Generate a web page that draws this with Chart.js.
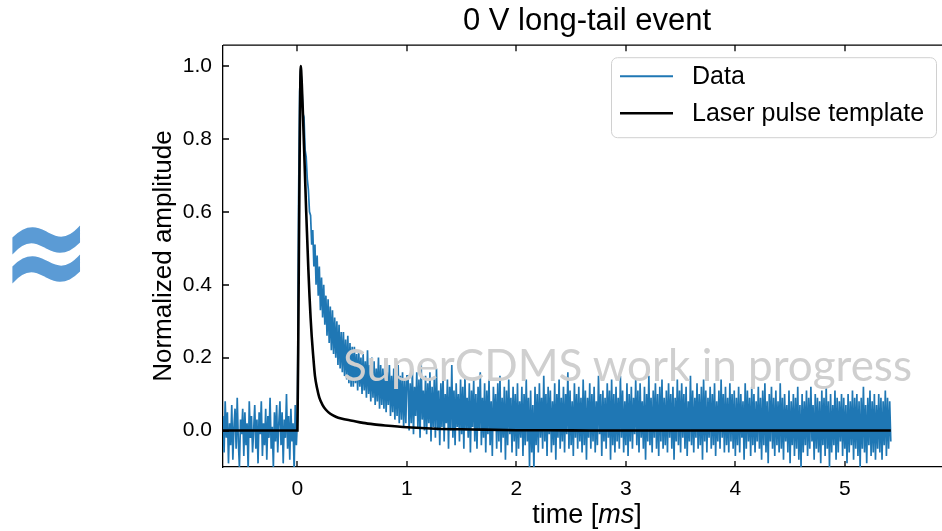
<!DOCTYPE html>
<html>
<head>
<meta charset="utf-8">
<title>0 V long-tail event</title>
<script src="https://cdn.jsdelivr.net/npm/chart.js@4.4.1/dist/chart.umd.min.js"></script>
<style>
  html, body { margin: 0; padding: 0; background: #fff; overflow: hidden; }
  #wrap { position: absolute; left: 0; top: 0; width: 960px; height: 531px; }
  #approx { position: absolute; left: 1px; top: 179px; font: bold 108px "DejaVu Sans"; color: #5b9bd5; line-height: 1; transform: scaleY(1.32); transform-origin: 0 0; }
  #mark { position: absolute; left: 343px; top: 342px; font: 44px Lato; color: #cfcfcf; line-height: 1; white-space: nowrap; pointer-events: none; }
  #xlabel { position: absolute; left: 487px; width: 200px; top: 501px; text-align: center; font: 27px "Liberation Sans"; line-height: 27px; color: #000; }
</style>
</head>
<body>
<div id="wrap">
  <canvas id="chart" width="960" height="531"></canvas>
  <div id="approx">≈</div>
  <div id="mark">SuperCDMS work in progress</div>
  <div id="xlabel">time [<i>ms</i>]</div>
</div>
<script>
// measured trace, one sample every 0.01 ms starting at -0.68 ms
const dataTimeStart = -0.68;
const dataTimeStep = 0.01;
const dataAmplitude = [
  // before the pulse
  0.04, -0.06, 0.08, -0.02, 0.05, -0.09, 0.02, -0.04, 0.07, -0.08,
  0.01, 0.06, -0.05, 0.09, -0.03, -0.10, 0.03, -0.01, 0.06, -0.07,
  0.05, -0.04, 0.02, -0.11, 0.08, -0.02, 0.04, -0.06, 0.00, 0.07,
  -0.05, 0.03, -0.09, 0.05, -0.01, 0.08, -0.07, 0.02, -0.04, 0.06,
  -0.08, 0.04, -0.02, 0.09, -0.05, 0.01, -0.10, 0.05, -0.03, 0.07,
  -0.06, 0.02, 0.08, -0.04, 0.05, -0.09, 0.03, -0.02, 0.10, -0.05,
  0.04, -0.08, 0.06, -0.03, 0.02, -0.11, 0.07, -0.04,
  // pulse, 0 to 1 ms
  0.03, 0.62, 0.93, 0.99, 0.95, 0.87, 0.86, 0.77, 0.75, 0.69,
  0.66, 0.60, 0.59, 0.51, 0.55, 0.45, 0.51, 0.40, 0.48, 0.37,
  0.45, 0.33, 0.42, 0.31, 0.40, 0.29, 0.37, 0.26, 0.36, 0.24,
  0.34, 0.22, 0.33, 0.21, 0.31, 0.20, 0.30, 0.18, 0.29, 0.17,
  0.27, 0.16, 0.27, 0.15, 0.25, 0.14, 0.26, 0.13, 0.24, 0.12,
  0.23, 0.12, 0.23, 0.13, 0.21, 0.11, 0.22, 0.12, 0.20, 0.10,
  0.21, 0.11, 0.19, 0.09, 0.22, 0.10, 0.18, 0.08, 0.20, 0.09,
  0.19, 0.07, 0.17, 0.08, 0.20, 0.06, 0.18, 0.07, 0.17, 0.06,
  0.19, 0.05, 0.16, 0.07, 0.18, 0.04, 0.15, 0.05, 0.17, 0.03,
  0.16, 0.04, 0.18, 0.02, 0.15, 0.03, 0.16, 0.01, 0.14, 0.02,
  0.15,
  // long tail
  0.15, 0.00, 0.13, 0.02, 0.17, -0.01, 0.12, 0.04, 0.16, 0.01,
  0.14, -0.02, 0.19, 0.03, 0.11, 0.00, 0.15, -0.01, 0.13, 0.02,
  0.16, -0.03, 0.12, 0.01, 0.14, -0.02, 0.17, 0.00, 0.11, -0.04,
  0.13, 0.01, 0.15, -0.03, 0.10, 0.02, 0.14, -0.05, 0.12, 0.00,
  0.18, -0.02, 0.11, -0.04, 0.13, 0.01, 0.10, -0.03, 0.14, -0.01,
  0.12, -0.05, 0.15, 0.00, 0.09, -0.02, 0.13, -0.06, 0.11, 0.01,
  0.14, -0.03, 0.10, -0.05, 0.12, 0.00, 0.16, -0.04, 0.09, -0.02,
  0.13, -0.06, 0.11, -0.01, 0.14, -0.04, 0.08, -0.07, 0.12, 0.00,
  0.10, -0.05, 0.13, -0.03, 0.15, -0.06, 0.09, -0.02, 0.12, -0.08,
  0.11, -0.04, 0.14, -0.01, 0.09, -0.06, 0.12, -0.03, 0.10, -0.07,
  0.13, -0.05, 0.08, -0.02, 0.12, -0.07, 0.10, -0.04, 0.14, -0.03,
  0.09, -0.10, 0.11, -0.06, 0.07, -0.11, 0.12, -0.04, 0.10, -0.06,
  0.13, -0.02, 0.09, -0.05, 0.15, -0.03, 0.10, -0.07, 0.12, -0.01,
  0.11, -0.06, 0.08, -0.04, 0.13, -0.08, 0.10, -0.02, 0.14, -0.05,
  0.09, -0.03, 0.12, -0.06, 0.10, -0.01, 0.16, -0.05, 0.11, -0.04,
  0.08, -0.07, 0.13, -0.02, 0.10, -0.05, 0.12, -0.03, 0.09, -0.06,
  0.14, -0.04, 0.11, -0.08, 0.09, -0.02, 0.13, -0.05, 0.10, -0.03,
  0.12, -0.06, 0.08, -0.04, 0.15, -0.01, 0.10, -0.07, 0.11, -0.03,
  0.09, -0.05, 0.13, -0.02, 0.11, -0.08, 0.14, -0.04, 0.10, -0.06,
  0.12, -0.03, 0.09, -0.05, 0.15, -0.02, 0.11, -0.06, 0.08, -0.04,
  0.13, -0.07, 0.10, -0.03, 0.12, -0.05, 0.09, -0.01, 0.14, -0.04,
  0.11, -0.06, 0.13, -0.02, 0.08, -0.05, 0.12, -0.08, 0.10, -0.03,
  0.15, -0.04, 0.09, -0.06, 0.11, -0.02, 0.13, -0.05, 0.10, -0.07,
  0.12, -0.03, 0.14, -0.05, 0.09, -0.04, 0.11, -0.06, 0.13, -0.02,
  0.10, -0.05, 0.12, -0.08, 0.09, -0.03, 0.14, -0.04, 0.11, -0.06,
  0.13, -0.02, 0.10, -0.05, 0.12, -0.07, 0.08, -0.03, 0.15, -0.04,
  0.11, -0.06, 0.09, -0.02, 0.13, -0.05, 0.10, -0.04, 0.12, -0.08,
  0.14, -0.03, 0.11, -0.06, 0.09, -0.02, 0.12, -0.05, 0.10, -0.04,
  0.13, -0.07, 0.08, -0.03, 0.11, -0.05, 0.14, -0.02, 0.10, -0.06,
  0.12, -0.04, 0.09, -0.06, 0.13, -0.03, 0.10, -0.05, 0.11, -0.07,
  0.09, -0.04, 0.12, -0.06, 0.10, -0.02, 0.08, -0.08, 0.13, -0.05,
  0.11, -0.03, 0.09, -0.07, 0.12, -0.04, 0.10, -0.06, 0.08, -0.03,
  0.12, -0.05, 0.09, -0.08, 0.11, -0.04, 0.13, -0.06, 0.08, -0.09,
  0.10, -0.03, 0.12, -0.05, 0.09, -0.07, 0.11, -0.04, 0.08, -0.06,
  0.13, -0.05, 0.09, -0.08, 0.10, -0.03, 0.07, -0.06, 0.11, -0.09,
  0.08, -0.04, 0.10, -0.07, 0.09, -0.05, 0.12, -0.08, 0.07, -0.10,
  0.10, -0.06, 0.08, -0.04, 0.11, -0.07, 0.09, -0.05, 0.12, -0.03,
  0.07, -0.08, 0.10, -0.05, 0.09, -0.06, 0.08, -0.09, 0.11, -0.04,
  0.09, -0.07, 0.12, -0.05, 0.08, -0.10, 0.10, -0.06, 0.07, -0.04,
  0.11, -0.08, 0.09, -0.06, 0.08, -0.03, 0.10, -0.07, 0.09, -0.05,
  0.07, -0.09, 0.10, -0.06, 0.08, -0.04, 0.11, -0.08, 0.09, -0.05,
  0.10, -0.07, 0.08, -0.10, 0.09, -0.05, 0.12, -0.06, 0.07, -0.09,
  0.09, -0.04, 0.11, -0.07, 0.08, -0.06, 0.10, -0.08, 0.07, -0.05,
  0.10, -0.06, 0.09, -0.08, 0.08, -0.04, 0.11, -0.07, 0.09, -0.05,
  0.08, -0.03
];

// laser pulse template
const templateTime = [-0.68, 0.0, 0.01, 0.02, 0.03, 0.04, 0.05, 0.06, 0.07, 0.08,
  0.09, 0.10, 0.11, 0.12, 0.13, 0.14, 0.16, 0.18, 0.20, 0.23,
  0.26, 0.30, 0.35, 0.40, 0.50, 0.60, 0.70, 0.80, 1.00, 1.26,
  1.60, 2.00, 2.50, 3.00, 5.42];
const templateAmplitude = [0, 0, 0.35, 0.75, 1.0, 0.95, 0.87, 0.78, 0.69, 0.60,
  0.52, 0.44, 0.37, 0.31, 0.26, 0.22, 0.15, 0.115, 0.09, 0.07,
  0.057, 0.046, 0.038, 0.033, 0.027, 0.021, 0.017, 0.014, 0.009, 0.005,
  0.003, 0.001, 0.0005, 0, 0];

const xTickValues = [0, 1, 2, 3, 4, 5];
const yTickValues = [0.0, 0.2, 0.4, 0.6, 0.8, 1.0];

const dataPoints = dataAmplitude.map((v, i) => ({ x: dataTimeStart + i * dataTimeStep, y: v }));
const templatePoints = templateTime.map((t, i) => ({ x: t, y: templateAmplitude[i] }));

// matplotlib style: inward ticks on all sides, closed box, legend box
const decorations = {
  id: 'decorations',
  afterDraw(chart) {
    const { ctx, chartArea: a, scales: { x, y } } = chart;
    ctx.save();
    ctx.strokeStyle = '#000';
    ctx.lineWidth = 1.3;
    ctx.beginPath();
    ctx.moveTo(a.left, a.top);
    ctx.lineTo(a.right, a.top);
    ctx.lineTo(a.right, a.bottom);
    xTickValues.forEach(v => {
      const px = Math.round(x.getPixelForValue(v));
      ctx.moveTo(px, a.bottom); ctx.lineTo(px, a.bottom - 6);
      ctx.moveTo(px, a.top); ctx.lineTo(px, a.top + 6);
    });
    yTickValues.forEach(v => {
      const py = Math.round(y.getPixelForValue(v));
      ctx.moveTo(a.left, py); ctx.lineTo(a.left + 6, py);
      ctx.moveTo(a.right, py); ctx.lineTo(a.right - 6, py);
    });
    ctx.stroke();

    // legend
    const bw = 325, bh = 80;
    const bx = a.right - 15 - bw, by = a.top + 12;
    ctx.beginPath();
    ctx.roundRect(bx + 0.5, by + 0.5, bw, bh, 6);
    ctx.fillStyle = 'rgba(255,255,255,0.8)';
    ctx.fill();
    ctx.strokeStyle = '#d0d0d0';
    ctx.lineWidth = 1;
    ctx.stroke();
    ctx.font = '25px "Liberation Sans"';
    ctx.textBaseline = 'middle';
    chart.data.datasets.forEach((ds, i) => {
      const ly = by + 19 + i * 37;
      ctx.beginPath();
      ctx.strokeStyle = ds.borderColor;
      ctx.lineWidth = ds.legendWidth;
      ctx.moveTo(bx + 9, ly);
      ctx.lineTo(bx + 62, ly);
      ctx.stroke();
      ctx.fillStyle = '#000';
      ctx.fillText(ds.label, bx + 81, ly + 1);
    });
    ctx.restore();
  }
};

Chart.defaults.font.family = '"Liberation Sans", Arial, sans-serif';
Chart.defaults.color = '#000';

new Chart(document.getElementById('chart'), {
  type: 'line',
  data: {
    datasets: [
      {
        label: 'Data',
        data: dataPoints,
        borderColor: '#1f77b4',
        borderWidth: 1.7,
        legendWidth: 2,
        pointRadius: 0,
        tension: 0,
        order: 2
      },
      {
        label: 'Laser pulse template',
        data: templatePoints,
        borderColor: '#000000',
        borderWidth: 2.6,
        legendWidth: 2.6,
        pointRadius: 0,
        cubicInterpolationMode: 'monotone',
        order: 1
      }
    ]
  },
  options: {
    responsive: false,
    animation: false,
    layout: { padding: { left: 140, right: 9, top: 0, bottom: 0 } },
    plugins: {
      legend: { display: false },
      tooltip: { enabled: false },
      title: {
        display: true,
        text: '0 V long-tail event',
        fullSize: false,
        font: { size: 31, weight: 'normal' },
        color: '#000',
        padding: { top: 3, bottom: 5 }
      }
    },
    scales: {
      x: {
        type: 'linear',
        min: -0.68,
        max: 5.97,
        grid: { display: false, drawTicks: false },
        border: { display: true, color: '#000', width: 1.3 },
        ticks: { font: { size: 21 }, color: '#000', padding: 10, maxRotation: 0, autoSkip: false,
          callback: v => String(v) },
        afterBuildTicks: s => { s.ticks = xTickValues.map(v => ({ value: v })); },
        afterFit: s => { s.height = 64; }
      },
      y: {
        type: 'linear',
        min: -0.1,
        max: 1.057,
        grid: { display: false, drawTicks: false },
        border: { display: true, color: '#000', width: 1.3 },
        ticks: { font: { size: 21 }, color: '#000', padding: 11, autoSkip: false,
          callback: v => v.toFixed(1) },
        afterBuildTicks: s => { s.ticks = yTickValues.map(v => ({ value: v })); },
        afterFit: s => { s.width = 83; },
        title: { display: true, text: 'Normalized amplitude', font: { size: 26 }, color: '#000', padding: { top: 8, bottom: 0 } }
      }
    }
  },
  plugins: [decorations]
});
</script>
</body>
</html>
